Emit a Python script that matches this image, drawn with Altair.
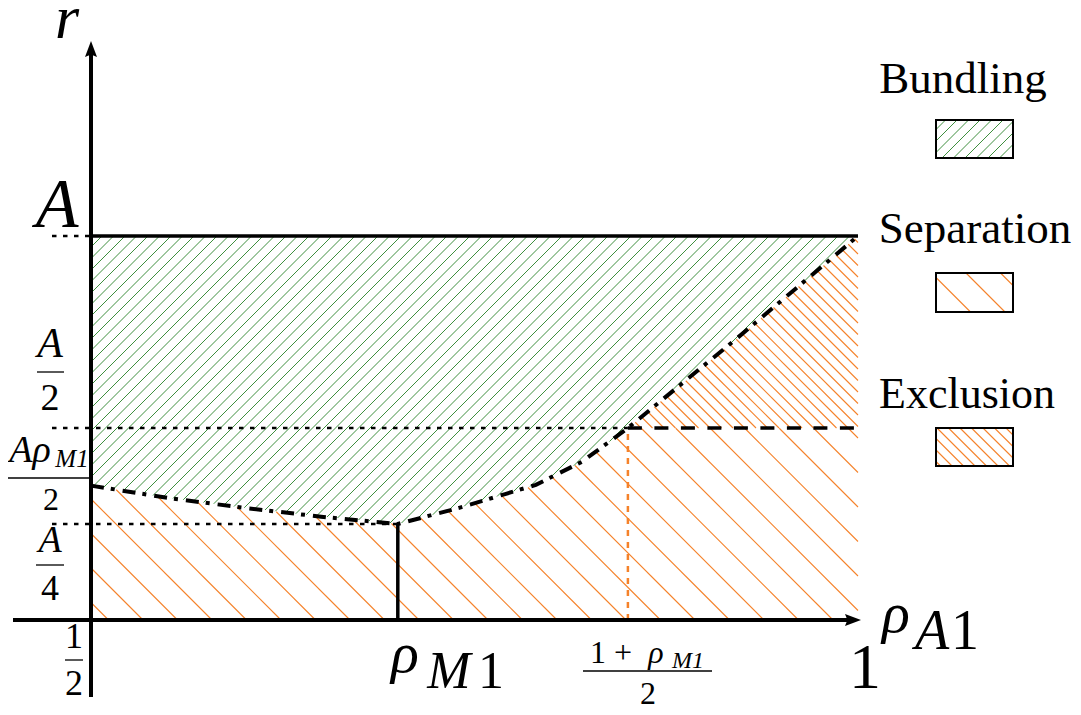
import altair as alt
import numpy as np
import pandas as pd

# ---------------- values ----------------
A = 1.0
rho_min, rho_max = 0.5, 1.0
rho_M1 = 0.70
rho_mid = 0.85            # (1 + rho_M1) / 2
r_half, r_quarter = 0.5, 0.25

# dash-dot frontier between bundling and the other regimes
curve_rho = [0.50, 0.55, 0.60, 0.65, 0.70, 0.74, 0.77, 0.79, 0.82, 0.85, 0.92, 1.00]
curve_r   = [0.35, 0.318, 0.292, 0.269, 0.25, 0.292, 0.328, 0.352, 0.412, 0.50, 0.73, 1.00]

legend_names = ["Bundling", "Separation", "Exclusion"]

italic_text = ["r", "A", "A", "Aρ", "M1", "A", "ρ", "M", "ρ", "M1", "ρ", "A"]
upright_text = ["2", "2", "4", "1", "2", "1 +", "2", "1", "1", "1"]

# ---------------- layout (pixels) ----------------
W, H = 1065, 699
KX, KY = 1534.0, 384.0                 # px per unit of rho / r
X_LEFT = rho_min - 83 / KX
Y_TOP = 612 / KY
xdom = [X_LEFT, X_LEFT + W / KX]
ydom = [Y_TOP - H / KY, Y_TOP]

FONT = "'Liberation Serif', 'DejaVu Serif', serif"
GREEN = "#3f8f3f"
ORANGE = "#f5822a"


def px2rho(px):
    return X_LEFT + np.asarray(px, dtype=float) / KX


def py2r(py):
    return Y_TOP - np.asarray(py, dtype=float) / KY


def page(px, py):
    return float(px2rho(px - 8)), float(py2r(py - 8))


def curve(rh):
    return np.interp(rh, curve_rho, curve_r)


def in_bundling(rh, rr):
    return (rh >= rho_min) & (rh <= rho_max) & (rr <= A) & (rr >= curve(rh))


def in_exclusion(rh, rr):
    return (rh >= rho_mid) & (rh <= rho_max) & (rr >= r_half) & (rr <= curve(rh))


def in_separation(rh, rr):
    return ((rh >= rho_min) & (rh <= rho_max) & (rr >= 0) & (rr <= curve(rh))
            & ~in_exclusion(rh, rr))


def everywhere(rh, rr):
    return np.ones_like(rh, dtype=bool)


def hatch(inside, x_rng, y_rng, spacing, sign, phase=0.0):
    """45-degree hatch segments (chart px) clipped to a region, returned in data units."""
    xmin, xmax = x_rng
    ymin, ymax = y_rng
    xs = np.arange(xmin, xmax + 0.01, 0.25)
    if sign > 0:
        cmin, cmax = xmin + ymin, xmax + ymax
    else:
        cmin, cmax = xmin - ymax, xmax - ymin
    rows = []
    c = np.ceil((cmin - phase) / spacing) * spacing + phase
    while c <= cmax:
        ys = c - xs if sign > 0 else xs - c
        rh, rr = px2rho(xs), py2r(ys)
        m = (ys >= ymin) & (ys <= ymax) & inside(rh, rr)
        idx = np.flatnonzero(m)
        if idx.size:
            br = np.flatnonzero(np.diff(idx) > 1)
            starts = np.r_[idx[0], idx[br + 1]]
            ends = np.r_[idx[br], idx[-1]]
            for s, e in zip(starts, ends):
                if e > s:
                    rows.append(dict(x=rh[s], y=rr[s], x2=rh[e], y2=rr[e]))
        c += spacing
    return pd.DataFrame(rows, columns=["x", "y", "x2", "y2"])


plot_x = (83, 850)
plot_y = (228, 612)
green_h = hatch(in_bundling, plot_x, plot_y, 11.5, +1)
sep_h = hatch(in_separation, plot_x, plot_y, 34.5, -1, phase=6)
exc_h = hatch(in_exclusion, plot_x, plot_y, 11.5, -1, phase=6)

# legend boxes (page px)
box_x = (936, 1013)
box_y = [(120, 158), (273, 312), (428, 466)]
leg_specs = [(11.5, +1), (34.5, -1), (11.5, -1)]
leg_h = []
for (y0, y1), (sp, sg) in zip(box_y, leg_specs):
    leg_h.append(hatch(everywhere, (box_x[0] - 8, box_x[1] - 8), (y0 - 8, y1 - 8), sp, sg, phase=3))
boxes = pd.DataFrame([
    dict(x=page(box_x[0], y0)[0], x2=page(box_x[1], y1)[0],
         y=page(box_x[0], y0)[1], y2=page(box_x[1], y1)[1]) for (y0, y1) in box_y])

xsc = alt.Scale(domain=xdom, nice=False, zero=False)
ysc = alt.Scale(domain=ydom, nice=False, zero=False)


def rules(df, **kw):
    return alt.Chart(df).mark_rule(**kw).encode(
        x=alt.X("x:Q", scale=xsc, axis=None), x2="x2:Q",
        y=alt.Y("y:Q", scale=ysc, axis=None), y2="y2:Q")


def seg(x, y, x2, y2):
    return dict(x=x, y=y, x2=x2, y2=y2)


# ---------------- boundary lines ----------------
curve_df = pd.DataFrame({"x": curve_rho, "y": curve_r})
curve_layer = alt.Chart(curve_df).mark_line(
    color="black", strokeWidth=4, strokeDash=[13, 7, 4, 8]).encode(
    x=alt.X("x:Q", scale=xsc, axis=None), y=alt.Y("y:Q", scale=ysc, axis=None))

x_start = page(13, 620)[0]
y_bottom = page(91, 697)[1]
y_top_line = page(91, 52)[1]
x_end_line = page(850, 620)[0]
dot_start = page(52, 620)[0]

solid = pd.DataFrame([seg(rho_min, A, rho_max, A), seg(rho_M1, 0, rho_M1, r_quarter)])
axes_df = pd.DataFrame([seg(x_start, 0, x_end_line, 0), seg(rho_min, y_bottom, rho_min, y_top_line)])
dashed = pd.DataFrame([seg(rho_mid, r_half, rho_max, r_half)])
dotted = pd.DataFrame([seg(dot_start, A, rho_min, A), seg(dot_start, r_half, rho_mid, r_half),
                       seg(dot_start, r_quarter, rho_M1, r_quarter)])
orange_dot = pd.DataFrame([seg(rho_mid, 0, rho_mid, r_half)])

tip_x = pd.DataFrame([dict(x=page(861, 620)[0], y=0.0)])
tip_y = pd.DataFrame([dict(x=rho_min, y=page(91, 41)[1])])

# ---------------- labels (centre x, baseline y in page px, font size) ----------------
italic_pos = [(67, 38, 62), (57, 227, 70), (50, 357, 42), (30, 462, 38), (72, 467, 25),
              (50, 552, 38), (405, 672, 58), (449, 688, 52), (656, 663, 32), (688, 668, 24),
              (896, 632, 58), (932, 649, 56)]
upright_pos = [(50, 410, 38), (51, 510, 32), (50, 600, 36), (74, 648, 36), (74, 695, 36),
               (611, 663, 32), (648, 704, 32), (491, 688, 52), (965, 649, 56), (865, 688, 64)]
legend_pos = [(963, 93, 45), (975, 243, 45), (967, 408, 44)]


def label_df(texts, pos):
    rows = []
    for t, (px, py, s) in zip(texts, pos):
        x, y = page(px, py)
        rows.append(dict(x=x, y=y, t=t, s=s))
    return pd.DataFrame(rows)


def text_layer(df, style):
    return alt.Chart(df).mark_text(
        font=FONT, fontStyle=style, align="center", baseline="alphabetic", color="black").encode(
        x=alt.X("x:Q", scale=xsc, axis=None), y=alt.Y("y:Q", scale=ysc, axis=None),
        text="t:N", size=alt.Size("s:Q", scale=None))


bars_page = [(37, 64, 372), (7, 90, 478), (36, 64, 565), (65, 83, 660), (583, 712, 671)]
bars = pd.DataFrame([seg(page(a, y)[0], page(a, y)[1], page(b, y)[0], page(b, y)[1])
                     for a, b, y in bars_page])

layers = [
    rules(green_h, color=GREEN, strokeWidth=1),
    rules(sep_h, color=ORANGE, strokeWidth=1.1),
    rules(exc_h, color=ORANGE, strokeWidth=1.1),
    rules(leg_h[0], color=GREEN, strokeWidth=1),
    rules(leg_h[1], color=ORANGE, strokeWidth=1.1),
    rules(leg_h[2], color=ORANGE, strokeWidth=1.1),
    rules(orange_dot, color=ORANGE, strokeWidth=2.5, strokeDash=[6, 6]),
    rules(dotted, color="black", strokeWidth=2.5, strokeDash=[4.5, 6.5]),
    rules(dashed, color="black", strokeWidth=3.5, strokeDash=[14, 12.5]),
    curve_layer,
    rules(solid, color="black", strokeWidth=3.5),
    rules(axes_df, color="black", strokeWidth=4),
    alt.Chart(tip_x).mark_point(shape="M0,0L-2,-0.75L-1.7,0L-2,0.75Z", size=256, filled=True,
                                opacity=1, color="black", strokeWidth=0).encode(
        x=alt.X("x:Q", scale=xsc, axis=None), y=alt.Y("y:Q", scale=ysc, axis=None)),
    alt.Chart(tip_y).mark_point(shape="M0,0L-0.75,2L0,1.7L0.75,2Z", size=256, filled=True,
                                opacity=1, color="black", strokeWidth=0).encode(
        x=alt.X("x:Q", scale=xsc, axis=None), y=alt.Y("y:Q", scale=ysc, axis=None)),
    alt.Chart(boxes).mark_rect(fillOpacity=0, stroke="black", strokeWidth=2).encode(
        x=alt.X("x:Q", scale=xsc, axis=None), x2="x2:Q",
        y=alt.Y("y:Q", scale=ysc, axis=None), y2="y2:Q"),
    rules(bars, color="black", strokeWidth=1.3),
    text_layer(label_df(italic_text, italic_pos), "italic"),
    text_layer(label_df(upright_text, upright_pos), "normal"),
    text_layer(label_df(legend_names, legend_pos), "normal"),
]

chart = alt.layer(*layers).properties(
    width=W, height=H, padding=0,
    autosize=alt.AutoSizeParams(type="none"),
).configure_view(stroke=None)

chart.save("out.html", embed_options={"renderer": "svg", "actions": False})
